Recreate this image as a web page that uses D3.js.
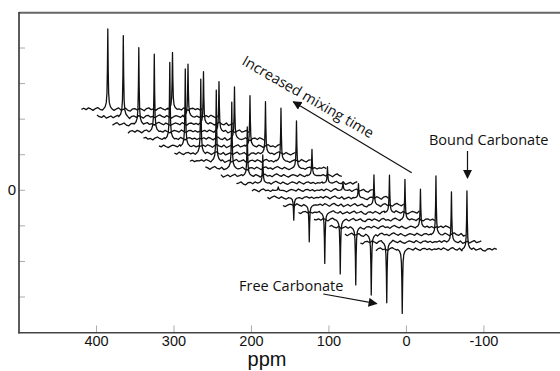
<!DOCTYPE html>
<html><head><meta charset="utf-8">
<script src="https://cdn.jsdelivr.net/npm/d3@7"></script>
<style>
body{margin:0;background:#fff}
svg{display:block}
text{font-family:"Open Sans",sans-serif;fill:#111}
</style>
</head><body>
<svg id="c" width="560" height="371"></svg>
<script>
// ---- data ----
const xTicks = [400, 300, 200, 100, 0, -100];
const yTicks = [-3, -2, -1, 0, 1, 2, 3, 4];
const yTickLabels = [0];
// peak amplitudes per spectrum (back/top-left to front/bottom-right)
const freeAmp  = [2.26, 2.28, 2.15, 2.17, 2.15, 2.17, 2.09, 1.99, 1.86, 1.37, 0.79, 0.10, -0.63, -1.03, -1.43, -1.52, -1.62, -1.70, -1.71, -1.80];
const boundAmp = [1.60, 1.48, 1.47, 1.40, 1.46, 1.42, 1.46, 1.48, 1.33, 0.74, 0.46, 0.24, 0.40, 0.85, 1.05, 1.14, 1.07, 1.65, 1.41, 1.64];
const freeShift = 165, boundShift = 81.5;          // ppm within each spectrum
const specStart = 199, specEnd = 43, noiseStep = 3; // spectral window (ppm)
const ppmOffset0 = 220.4, ppmOffsetStep = -20;      // stacking offsets
const yOffset0 = 2.277, yOffsetStep = -0.2072;
// peak line shape: [ppm from centre, fraction of amplitude]
const peakProfile = [[-6,0],[-3.5,0.03],[-2,0.08],[-1.1,0.2],[-0.5,0.5],[0,1],[0.5,0.5],[1.1,0.2],[2,0.08],[3.5,0.03],[6,0]];
// baseline wiggle
const noise = [0,0.03,-0.01,0.04,0.01,-0.03,0.02,0.05,0,-0.02,0.03,-0.04,-0.01,0.02,-0.03,0.01,0.04,-0.02,0,0.03,-0.03,-0.05,0.01,0.02,-0.02,0.03,0,-0.04,0.02,0.04,-0.01,0.01,-0.03,0.02,0.05,0.01,-0.02,0.03,-0.01,-0.04,0,0.03,0.01,-0.02,0.04,0,-0.03,0.02,0.03,-0.01,0.02,-0.02,0.01];

// ---- layout ----
const svg = d3.select("#c");
const x = d3.scaleLinear().domain([500, -200]).range([19, 561.4]);
const y = d3.scaleLinear().domain([-4, 5]).range([332.6, 12.45]);

const defs = svg.append("defs");
defs.append("clipPath").attr("id","clip")
  .append("rect").attr("x",19).attr("y",12.45).attr("width",560-19).attr("height",332.6-12.45);
defs.append("marker").attr("id","ah").attr("viewBox","0 0 10 10").attr("refX",9).attr("refY",5)
  .attr("markerWidth",9).attr("markerHeight",9).attr("markerUnits","userSpaceOnUse").attr("orient","auto")
  .append("path").attr("d","M0,0 L10,5 L0,10 Z").attr("fill","#111");

// ticks (inner, grey)
svg.append("g").selectAll("line").data(yTicks).join("line")
  .attr("x1",19).attr("x2",25).attr("y1",d=>y(d)).attr("y2",d=>y(d))
  .attr("stroke","#aaa").attr("stroke-width",1);
svg.append("g").selectAll("line").data(xTicks).join("line")
  .attr("x1",d=>x(d)).attr("x2",d=>x(d)).attr("y1",332.6).attr("y2",325.5)
  .attr("stroke","#aaa").attr("stroke-width",1);

// frame
svg.append("line").attr("x1",19).attr("x2",560).attr("y1",12.7).attr("y2",12.7).attr("stroke","#666").attr("stroke-width",2);
svg.append("line").attr("x1",19).attr("x2",19).attr("y1",12).attr("y2",333.5).attr("stroke","#333").attr("stroke-width",1.6);
svg.append("line").attr("x1",18.5).attr("x2",560).attr("y1",332.8).attr("y2",332.8).attr("stroke","#444").attr("stroke-width",1.6);

// tick labels
svg.append("g").selectAll("text").data(xTicks).join("text")
  .attr("x",d=>x(d)).attr("y",345.5).attr("text-anchor","middle")
  .style("font-family","'Liberation Sans',sans-serif").style("font-size","14.5px").text(d=>d);
svg.append("g").selectAll("text").data(yTickLabels).join("text")
  .attr("x",12).attr("y",d=>y(d)+5).attr("text-anchor","middle")
  .style("font-family","'Liberation Sans',sans-serif").style("font-size","15px").text(d=>d);
svg.append("text").attr("x",267).attr("y",366.3).attr("text-anchor","middle")
  .style("font-family","'Liberation Sans',sans-serif").style("font-size","20px").text("ppm");

// spectra
const line = d3.line().x(d=>x(d[0])).y(d=>y(d[1]));
const g = svg.append("g").attr("clip-path","url(#clip)");
freeAmp.forEach((fa, i) => {
  const ba = boundAmp[i];
  const po = ppmOffset0 + i*ppmOffsetStep;
  const yo = yOffset0 + i*yOffsetStep;
  const pts = [];
  for (let k = 0; specStart - k*noiseStep >= specEnd; k++) {
    const p = specStart - k*noiseStep;
    if (Math.abs(p-freeShift) < 6 || Math.abs(p-boundShift) < 6) continue;
    pts.push([p, noise[(k + 7*i) % noise.length]]);
  }
  peakProfile.forEach(([dp,h]) => {
    pts.push([freeShift+dp, fa*h]);
    pts.push([boundShift+dp, ba*h]);
  });
  pts.sort((a,b)=>b[0]-a[0]);
  g.append("path")
    .attr("d", line(pts.map(([p,v])=>[p+po, v+yo])))
    .attr("fill","none").attr("stroke","#111").attr("stroke-width",1.3)
    .attr("stroke-linejoin","round");
});

// annotations
svg.append("line").attr("x1",411.7).attr("y1",172.7).attr("x2",293.3).attr("y2",101.7)
  .attr("stroke","#111").attr("stroke-width",1.2).attr("marker-end","url(#ah)");
svg.append("text").attr("transform","translate(241,64) rotate(30)")
  .style("font-size","14.5px").text("Increased mixing time");

svg.append("text").attr("x",429).attr("y",145).style("font-size","14.5px").text("Bound Carbonate");
svg.append("line").attr("x1",467.5).attr("y1",151).attr("x2",467.5).attr("y2",178)
  .attr("stroke","#111").attr("stroke-width",1.2).attr("marker-end","url(#ah)");

svg.append("text").attr("x",239).attr("y",290.7).style("font-size","14.5px").text("Free Carbonate");
svg.append("line").attr("x1",323.3).attr("y1",294).attr("x2",376.7).attr("y2",303.7)
  .attr("stroke","#111").attr("stroke-width",1.2).attr("marker-end","url(#ah)");
</script>
</body></html>
